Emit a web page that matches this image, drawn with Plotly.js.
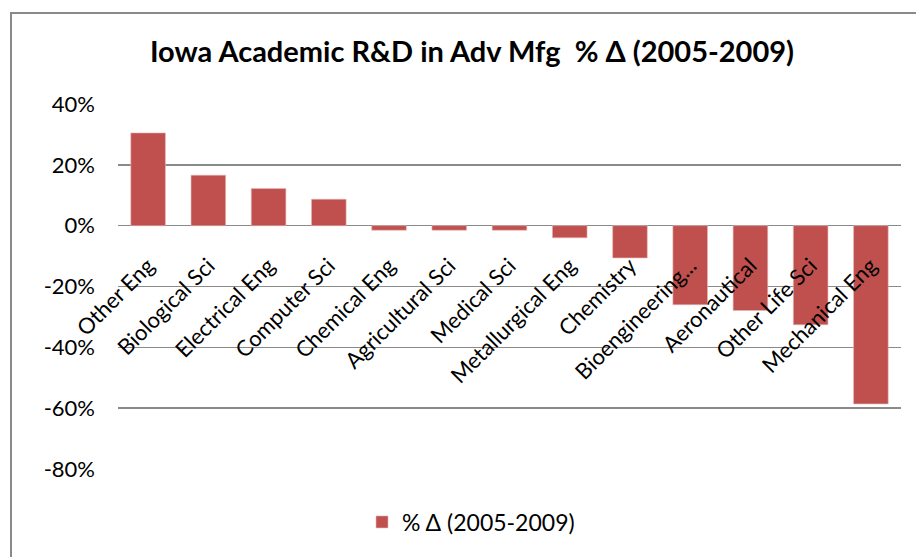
<!DOCTYPE html>
<html>
<head>
<meta charset="utf-8">
<script src="https://cdn.plot.ly/plotly-3.0.1.min.js"></script>
<style>
  html, body { margin: 0; padding: 0; background: #fff; }
  #wrap { position: relative; width: 916px; height: 557px; }
  #chart { position: absolute; left: 0; top: 0; width: 916px; height: 557px; }
  #frame { position: absolute; left: 10px; top: 12px; width: 920px; height: 560px;
           border-left: 2px solid #8a8a8a; border-top: 2px solid #8a8a8a; pointer-events: none; }
</style>
</head>
<body>
<div id="wrap">
  <div id="chart"></div>
  <div id="frame"></div>
</div>
<script>
const categories = ["Other Eng", "Biological Sci", "Electrical Eng", "Computer Sci", "Chemical Eng",
  "Agricultural Sci", "Medical Sci", "Metallurgical Eng", "Chemistry", "Bioengineering...",
  "Aeronautical", "Other Life Sci", "Mechanical Eng"];
const pctChange = [30.5, 16.6, 12.2, 8.7, -1.5, -1.5, -1.5, -4.0, -10.6, -26.0, -27.9, -32.6, -58.6];
const seriesName = "% \u0394 (2005-2009)";
const chartTitle = "Iowa Academic R&D in Adv Mfg  % \u0394 (2005-2009)";
const yTickVals = [-80, -60, -40, -20, 0, 20, 40];

const FONT = "Lato, 'Open Sans', sans-serif";
const yMin = -80, yMax = 40;

const trace = {
  type: "bar",
  x: categories,
  y: pctChange,
  name: seriesName,
  marker: { color: "#C0504D", line: { color: "#E6B9B8", width: 0.6 } },
  showlegend: true,
  hoverinfo: "x+y"
};

const layout = {
  width: 916, height: 557,
  paper_bgcolor: "#ffffff", plot_bgcolor: "#ffffff",
  margin: { l: 118, r: 15, t: 104, b: 88 },
  font: { family: FONT, color: "#000000" },
  title: {
    text: chartTitle,
    font: { family: FONT, size: 29, color: "#000000", weight: "bold" },
    xref: "container", yref: "container",
    x: 472 / 916, xanchor: "center",
    y: 1 - 52 / 557, yanchor: "middle"
  },
  bargap: 0.425,
  xaxis: {
    type: "category",
    anchor: "free",
    position: (0 - yMin) / (yMax - yMin),
    tickangle: -45,
    tickfont: { family: FONT, size: 22, color: "#000000" },
    showgrid: false, showline: false, zeroline: false,
    ticks: "", ticklabelstandoff: 22,
    fixedrange: true
  },
  yaxis: {
    range: [yMin, yMax],
    tickvals: yTickVals,
    ticktext: yTickVals.map(v => v + "%"),
    tickfont: { family: FONT, size: 22, color: "#000000" },
    showgrid: true, gridcolor: "#8a8a8a", gridwidth: 1.6,
    zeroline: false, showline: false, ticks: "",
    ticklabelstandoff: 22,
    fixedrange: true
  },
  showlegend: true,
  legend: {
    orientation: "h",
    xref: "container", yref: "container",
    x: 471 / 916, xanchor: "center",
    y: 1 - 522 / 557, yanchor: "middle",
    font: { family: FONT, size: 23, color: "#000000" },
    bgcolor: "rgba(0,0,0,0)"
  }
};

Plotly.newPlot("chart", [trace], layout, { staticPlot: true, displayModeBar: false });
</script>
</body>
</html>
